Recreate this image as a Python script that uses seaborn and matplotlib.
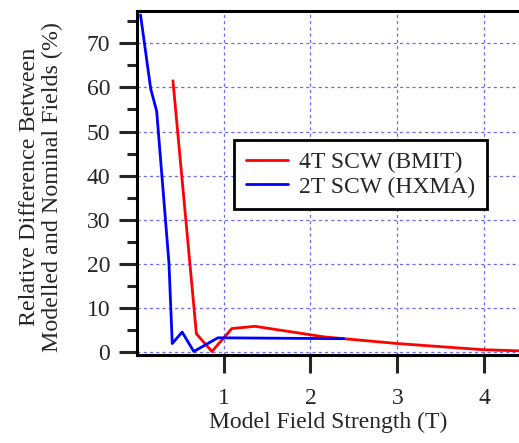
import matplotlib
matplotlib.use("Agg")
import matplotlib.pyplot as plt
import numpy as np
import pandas as pd
import seaborn as sns
from matplotlib.ticker import MultipleLocator, FixedLocator

# values
bmit_field = [0.417, 0.687, 0.866, 1.095, 1.361, 1.895, 2.161, 3.0, 3.99, 4.40]
bmit_diff = [61.5, 4.2, 0.2, 5.4, 5.9, 4.3, 3.5, 2.0, 0.6, 0.35]

hxma_field = [0.044, 0.161, 0.230, 0.371, 0.409, 0.523, 0.657, 0.935, 2.383]
hxma_diff = [76.4, 59.7, 54.6, 20.3, 2.0, 4.6, 0.2, 3.3, 3.1]

series_names = ["4T SCW (BMIT)", "2T SCW (HXMA)"]
series_colors = ["#ff0000", "#0000ff"]
x_ticks = [1, 2, 3, 4]

df = pd.concat(
    [
        pd.DataFrame({"field": bmit_field, "diff": bmit_diff, "source": series_names[0]}),
        pd.DataFrame({"field": hxma_field, "diff": hxma_diff, "source": series_names[1]}),
    ],
    ignore_index=True,
)

sns.set_theme(style="white")
plt.rcParams["font.family"] = ["Liberation Serif", "DejaVu Serif"]

fig = plt.figure(figsize=(5.19, 4.43), dpi=100)
ax = fig.add_axes([0.2634, 0.1986, 0.7366, 0.7766])

sns.lineplot(
    data=df,
    x="field",
    y="diff",
    hue="source",
    palette=dict(zip(series_names, series_colors)),
    estimator=None,
    sort=False,
    linewidth=2.0,
    ax=ax,
)

ax.set_xlim(0.0, 4.40)
ax.set_ylim(-0.6, 77.3)

ax.xaxis.set_major_locator(FixedLocator(x_ticks))
ax.yaxis.set_major_locator(MultipleLocator(10))
ax.yaxis.set_minor_locator(MultipleLocator(5))

ax.grid(True, which="major", color="#6a6aff", linestyle=(0, (2.5, 2.5)), linewidth=0.9)

for side in ["left", "top", "bottom"]:
    ax.spines[side].set_linewidth(2.2)
    ax.spines[side].set_color("black")
ax.spines["right"].set_visible(False)

ax.tick_params(axis="x", which="major", direction="out", length=13, width=2.2, pad=11,
               labelsize=17, bottom=True, top=False)
ax.tick_params(axis="y", which="major", direction="out", length=13, width=2.2, pad=6,
               labelsize=17, left=True, right=False)
ax.tick_params(axis="y", which="minor", direction="out", length=7, width=2.2, left=True)

ax.set_xlabel("Model Field Strength (T)", fontsize=17, labelpad=2)
ax.set_ylabel("Relative Difference Between\nModelled and Nominal Fields (%)",
              fontsize=17.3, linespacing=1.1)
ax.yaxis.set_label_coords(-0.193, 0.488)

leg = ax.legend(
    loc="upper left",
    bbox_to_anchor=(0.2545, 0.625),
    borderaxespad=0,
    fontsize=17,
    frameon=True,
    fancybox=False,
    handlelength=1.8,
    handletextpad=0.45,
    labelspacing=0.12,
    borderpad=0.5,
    title=None,
)
leg.get_frame().set_edgecolor("black")
leg.get_frame().set_linewidth(2.0)
leg.get_frame().set_alpha(1)
for line in leg.get_lines():
    line.set_linewidth(2.0)

fig.savefig("out.png", dpi=100)
